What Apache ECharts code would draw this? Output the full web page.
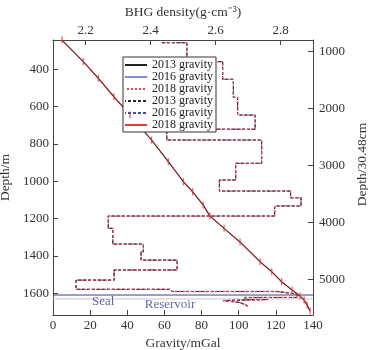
<!DOCTYPE html>
<html>
<head>
<meta charset="utf-8">
<script src="https://cdn.jsdelivr.net/npm/echarts@6/dist/echarts.min.js"></script>
<style>
  html, body { margin: 0; padding: 0; background: #fff; }
  #chart { width: 368px; height: 350px; }
</style>
</head>
<body>
<div id="chart"></div>
<script>
// Depth range of the section (m); the right axis shows the same range in feet
const depthTop = 243;
const depthBottom = 1716;
const footLength = 0.3048;

const depthTicks = [400, 600, 800, 1000, 1200, 1400, 1600];
const feetTicks = [1000, 2000, 3000, 4000, 5000];
const densityTicks = [2.2, 2.4, 2.6, 2.8];

// Borehole gravity stations: depth (m) and gravity (mGal) for each survey
const stationDepth = [243, 359, 448, 547, 645, 779, 895, 1002, 1056, 1127, 1186, 1252, 1325, 1431, 1484, 1538, 1582, 1614, 1636, 1662, 1695];
const gravity2013 = [4.8, 16.3, 24.4, 32.8, 41.5, 53.1, 62.1, 70.2, 75.2, 80.9, 84.5, 92.1, 100.7, 111.5, 117.8, 123.1, 128.7, 133.0, 135.2, 136.8, 138.4];
const gravity2016 = [4.8, 16.3, 24.4, 32.8, 41.5, 53.1, 62.1, 70.2, 75.2, 80.9, 84.5, 92.1, 100.7, 111.5, 117.8, 123.1, 128.7, 133.0, 135.2, 136.8, 138.4];
const gravity2018 = [4.8, 16.3, 24.4, 32.8, 41.5, 53.1, 62.1, 70.2, 75.2, 80.9, 84.5, 92.1, 100.7, 111.5, 117.8, 123.1, 128.7, 133.0, 135.2, 136.8, 138.4];

// BHG interval density profile: vertices (depth in m, density in g/cm3)
const densityDepth = [257.5, 257.5, 359, 359, 453.5, 453.5, 550, 550, 645, 645, 721, 721, 779, 779, 903.5, 903.5,
  993, 993, 1052, 1052, 1088, 1088, 1132, 1132, 1186, 1186, 1252, 1252, 1336, 1336, 1377, 1377, 1422, 1422,
  1475, 1475, 1529, 1529, 1578.5, 1578.5, 1590, 1590, 1604, 1622, 1622, 1633, 1633, 1638.5, 1638.5, 1649, 1649, 1668];
const density2013 = [2.435, 2.512, 2.512, 2.622, 2.622, 2.655, 2.655, 2.668, 2.668, 2.722, 2.722, 2.450, 2.450, 2.742,
  2.742, 2.662, 2.662, 2.612, 2.612, 2.831, 2.831, 2.863, 2.863, 2.782, 2.782, 2.270, 2.270, 2.284, 2.284, 2.378,
  2.378, 2.371, 2.371, 2.482, 2.482, 2.288, 2.288, 2.171, 2.171, 2.460, 2.466, 2.789, 2.851, 2.851, 2.691, 2.691,
  2.762, 2.762, 2.623, 2.623, 2.675, 2.700];
const density2016 = density2013.slice();
const density2018 = density2013.slice();

// Seal / reservoir boundaries (m) and their labels
const sealDepth = 1609;
const reservoirDepth = 1630;
const zoneLabels = [
  { name: 'Seal', value: [27, 1643] },
  { name: 'Reservoir', value: [63, 1658] }
];

const pairs = (xs, ys) => xs.map((x, i) => [x, ys[i]]);

// Legend text per series (density curves are keyed by survey year)
const legendText = {
  'g2013': '2013 gravity', 'g2016': '2016 gravity', 'd2018': '2018 gravity',
  'd2013': '2013 gravity', 'd2016': '2016 gravity', 'g2018': '2018 gravity'
};

const serif = '"Liberation Serif", "Times New Roman", serif';
const axisColor = '#444';
const labelStyle = { fontFamily: serif, fontSize: 13, color: '#333' };
const nameStyle = { fontFamily: serif, fontSize: 13.5, color: '#333' };
const plain = v => String(v);

const chart = echarts.init(document.getElementById('chart'), null, { renderer: 'canvas' });

chart.setOption({
  animation: false,
  backgroundColor: '#fff',
  grid: { left: 53, right: 55, top: 40, bottom: 35, show: false, outerBoundsMode: 'none', containLabel: false },
  legend: {
    data: ['g2013', 'g2016', 'd2018', 'd2013', 'd2016', 'g2018'],
    formatter: n => legendText[n],
    orient: 'vertical',
    left: 123, top: 57,
    itemWidth: 22, itemHeight: 10, itemGap: 0,
    padding: [2, 3, 1, 1],
    borderColor: '#333', borderWidth: 1,
    backgroundColor: '#fff',
    itemStyle: { opacity: 0 },
    textStyle: { fontFamily: serif, fontSize: 12, color: '#222', lineHeight: 12, height: 12, padding: 0 },
    selectedMode: false
  },
  xAxis: [
    {
      type: 'value', position: 'bottom', min: 0, max: 140, interval: 20,
      name: 'Gravity/mGal', nameLocation: 'middle', nameGap: 19, nameTextStyle: nameStyle,
      axisLine: { show: true, lineStyle: { color: axisColor, width: 1 } },
      axisTick: { show: true, inside: true, length: 5, lineStyle: { color: axisColor } },
      axisLabel: Object.assign({ margin: 4, formatter: plain }, labelStyle),
      splitLine: { show: false }
    },
    {
      type: 'value', position: 'top', min: 2.1, max: 2.9,
      name: 'BHG density(g·cm⁻³)', nameLocation: 'middle', nameGap: 20, nameTextStyle: nameStyle,
      axisLine: { show: true, lineStyle: { color: axisColor, width: 1 } },
      axisTick: { show: true, inside: true, length: 5, lineStyle: { color: axisColor }, customValues: densityTicks },
      axisLabel: Object.assign({ margin: 3, customValues: densityTicks, formatter: v => v.toFixed(1) }, labelStyle),
      splitLine: { show: false }
    }
  ],
  yAxis: [
    {
      type: 'value', position: 'left', inverse: true, min: depthTop, max: depthBottom,
      name: 'Depth/m', nameLocation: 'middle', nameGap: 35, nameRotate: 90, nameTextStyle: nameStyle,
      axisLine: { show: true, lineStyle: { color: axisColor, width: 1 } },
      axisTick: { show: true, inside: true, length: 5, lineStyle: { color: axisColor }, customValues: depthTicks },
      axisLabel: Object.assign({ margin: 4, customValues: depthTicks, formatter: plain }, labelStyle),
      splitLine: { show: false }
    },
    {
      type: 'value', position: 'right', inverse: true,
      min: depthTop / footLength, max: depthBottom / footLength,
      name: 'Depth/30.48cm', nameLocation: 'middle', nameGap: 40, nameRotate: 90,
      nameTextStyle: Object.assign({ padding: [0, 0, 0, 26] }, nameStyle),
      axisLine: { show: true, lineStyle: { color: axisColor, width: 1 } },
      axisTick: { show: true, inside: true, length: 5, lineStyle: { color: axisColor }, customValues: feetTicks },
      axisLabel: Object.assign({ margin: 6, customValues: feetTicks, formatter: plain }, labelStyle),
      splitLine: { show: false }
    }
  ],
  series: [
    // Seal and reservoir boundaries
    {
      type: 'line', name: 'sealLine', silent: true, symbol: 'none', z: 1,
      data: [[0, sealDepth], [140, sealDepth]],
      lineStyle: { color: '#3a3f96', width: 1 }
    },
    {
      type: 'line', name: 'reservoirLine', silent: true, symbol: 'none', z: 1,
      data: [[0, reservoirDepth], [140, reservoirDepth]],
      lineStyle: { color: '#c4c6d6', width: 1 }
    },
    {
      type: 'scatter', name: 'zones', silent: true, symbolSize: 0, z: 5,
      data: zoneLabels,
      label: { show: true, position: 'inside', formatter: p => p.name,
        fontFamily: serif, fontSize: 13, color: '#3b3f90' }
    },
    // Interval density profiles (top axis)
    {
      type: 'line', name: 'd2016', xAxisIndex: 1, symbol: 'none', z: 2,
      data: pairs(density2016, densityDepth),
      itemStyle: { color: '#3a4aa8' },
      lineStyle: { color: '#3a4aa8', width: 1, type: [3, 2] }
    },
    {
      type: 'line', name: 'd2013', xAxisIndex: 1, symbol: 'none', z: 2,
      data: pairs(density2013, densityDepth),
      itemStyle: { color: '#333' },
      lineStyle: { color: '#2a2a2a', width: 1.1, type: [3, 2] }
    },
    {
      type: 'line', name: 'd2018', xAxisIndex: 1, symbol: 'none', z: 3,
      data: pairs(density2018, densityDepth),
      itemStyle: { color: '#e0505e' },
      lineStyle: { color: '#dd4a58', width: 1.3, type: [2, 2], dashOffset: 2 }
    },
    // Gravity curves (bottom axis)
    {
      type: 'line', name: 'g2016', symbol: 'none', z: 2,
      data: pairs(gravity2016, stationDepth),
      itemStyle: { color: '#7f8fd0' },
      lineStyle: { color: '#7f8fd0', width: 1 }
    },
    {
      type: 'line', name: 'g2018', symbol: 'none', z: 3,
      data: pairs(gravity2018, stationDepth),
      itemStyle: { color: '#e23a3a' },
      lineStyle: { color: '#e23a3a', width: 1.3 }
    },
    {
      type: 'line', name: 'g2013', symbol: 'none', z: 3,
      data: pairs(gravity2013, stationDepth),
      itemStyle: { color: '#222' },
      lineStyle: { color: '#222', width: 0.7 }
    },
    {
      type: 'scatter', name: 'stations', silent: true, z: 4,
      data: pairs(gravity2018, stationDepth),
      symbol: 'rect', symbolSize: [1.2, 7],
      itemStyle: { color: '#d83434' }
    }
  ]
});
</script>
</body>
</html>
